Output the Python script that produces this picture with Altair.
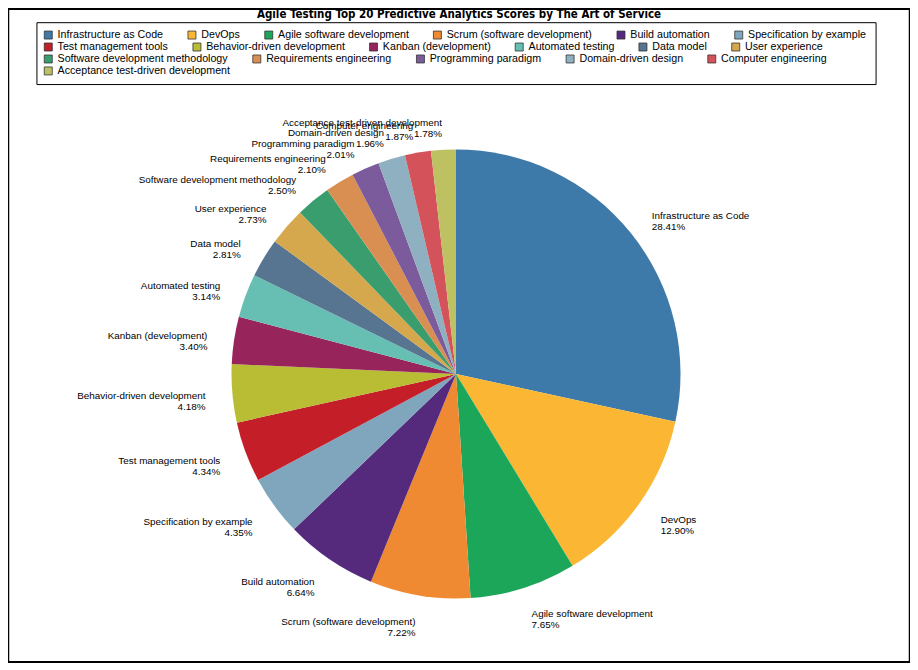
import altair as alt
import pandas as pd

names = [
    "Infrastructure as Code", "DevOps", "Agile software development",
    "Scrum (software development)", "Build automation", "Specification by example",
    "Test management tools", "Behavior-driven development", "Kanban (development)",
    "Automated testing", "Data model", "User experience",
    "Software development methodology", "Requirements engineering", "Programming paradigm",
    "Domain-driven design", "Computer engineering", "Acceptance test-driven development",
]
values = [28.41, 12.90, 7.65, 7.22, 6.64, 4.35, 4.34, 4.18, 3.40, 3.14, 2.81, 2.73,
          2.50, 2.10, 2.01, 1.96, 1.87, 1.78]
colors = ["#3d7aa9", "#fbb733", "#1ba65a", "#f08a32", "#552a7d", "#7fa6bc",
          "#c41f28", "#b9bd33", "#97245a", "#66bfb2", "#577590", "#d5a84d",
          "#3a9d6d", "#d98f52", "#7b5b9b", "#8fb0c0", "#d4525a", "#bdc162"]
legend_rows = [(0, 6), (6, 12), (12, 17), (17, 18)]
title = "Agile Testing Top 20 Predictive Analytics Scores by The Art of Service"

total = sum(values)
df = pd.DataFrame({"name": names, "value": values, "order": list(range(len(names)))})

W, H, PAD = 904, 655, 0
CX, CY, R = 449, 366, 225
FONT = "Liberation Sans, Arial, Helvetica, sans-serif"
TFONT = "Liberation Sans Narrow, Arial Narrow, DejaVu Sans Condensed, sans-serif"

theta_scale = alt.Scale(domain=[0, total], range=[0, 6.283185307179586])

base = alt.Chart(df).transform_window(
    cum="sum(value)", sort=[alt.SortField("order")], frame=[None, 0]
).transform_calculate(
    start="datum.cum - datum.value",
    mid="datum.cum - datum.value / 2",
    label="datum.name + '\\n' + format(datum.value, '.2f') + '%'",
)

# legend frame
frame = alt.Chart(pd.DataFrame({"k": [0]})).mark_rect(
    fill="white", stroke="black", strokeWidth=1
).encode(x=alt.value(29), x2=alt.value(870), y=alt.value(14), y2=alt.value(76))

arc_layers = []
for i, (a, b) in enumerate(legend_rows):
    row_names = names[a:b]
    arc_layers.append(
        base.transform_filter(
            alt.FieldOneOfPredicate(field="name", oneOf=row_names)
        ).mark_arc(outerRadius=R).encode(
            theta=alt.Theta("start:Q", stack=False, scale=theta_scale),
            theta2="cum:Q",
            color=alt.Color(
                "name:N",
                scale=alt.Scale(domain=row_names, range=colors[a:b]),
                sort=row_names,
                legend=alt.Legend(
                    title=None, orient="none", legendX=35, legendY=21 + 12 * i,
                    direction="horizontal", padding=0,
                    labelFont=FONT, labelFontSize=10.7, labelColor="black",
                    labelLimit=400, labelOffset=4, columnPadding=22,
                    symbolType="square", symbolSize=64,
                    symbolStrokeColor="#333333", symbolStrokeWidth=0.8,
                ),
            ),
            x=alt.value(CX), y=alt.value(CY),
        )
    )


def labels(side_expr, align):
    return base.transform_filter(side_expr).mark_text(
        radius=252, align=align, baseline="middle", lineBreak="\n",
        font=FONT, fontSize=9.9, color="black", lineHeight=11,
    ).encode(
        theta=alt.Theta("mid:Q", stack=False, scale=theta_scale),
        text="label:N",
        x=alt.value(CX), y=alt.value(CY),
    )


right = labels(f"datum.mid < {total / 2}", "left")
left = labels(f"datum.mid >= {total / 2}", "right")

chart = alt.layer(frame, *arc_layers, right, left).resolve_scale(
    color="independent"
).properties(
    width=W, height=H,
    autosize=alt.AutoSizeParams(type="none"),
    padding=PAD,
    title=alt.Title(title, font=TFONT, fontSize=11.5, fontWeight="bold",
                    anchor="middle", color="black", dy=16),
).configure_view(stroke="black", strokeWidth=2.5)

chart.save("out.html", embed_options={"renderer": "svg", "actions": False})
